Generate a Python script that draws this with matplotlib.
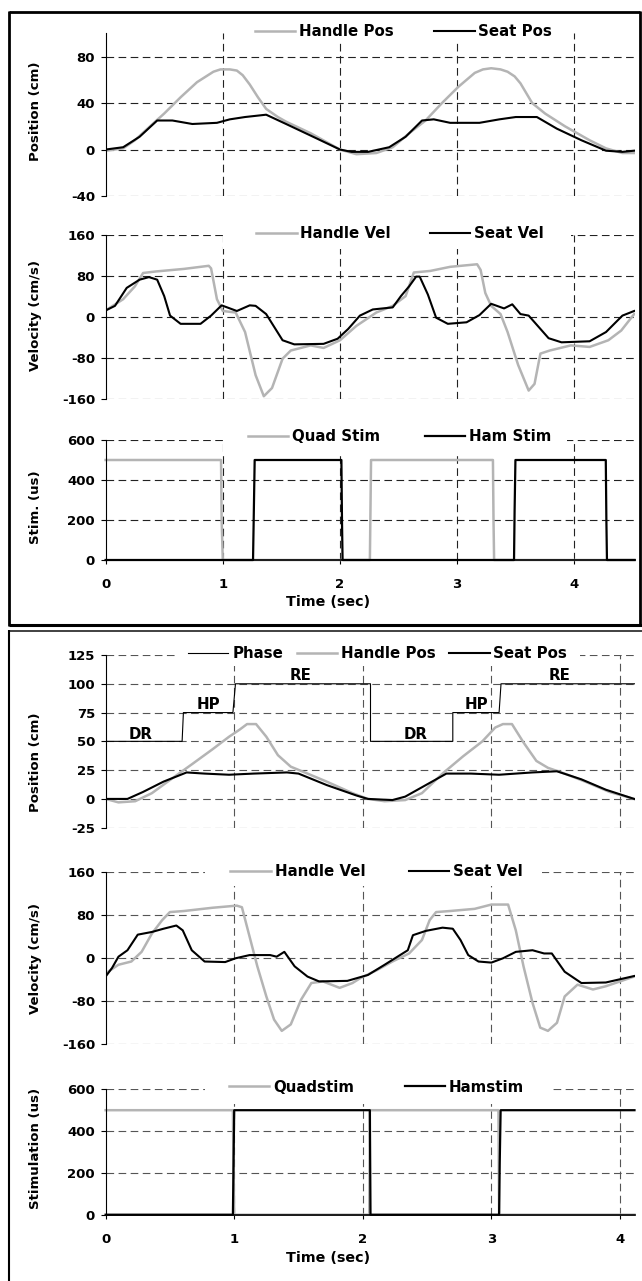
import matplotlib
matplotlib.use("Agg")
import matplotlib.pyplot as plt
from matplotlib.lines import Line2D
from matplotlib.patches import Rectangle

plt.rcParams['font.family'] = ['DejaVu Sans']
plt.rcParams['font.weight'] = 'bold'
plt.rcParams['lines.scale_dashes'] = False
plt.rcParams['axes.unicode_minus'] = False

W, H = 642, 1281
GRAY = '#b4b4b4'

# ---- top chart data (time in sec) ----
t_hpos1 = [0, 0.15, 0.25, 0.39, 0.5, 0.64, 0.78, 0.92, 0.98, 1.06, 1.12, 1.17, 1.23, 1.30, 1.37, 1.47, 1.54, 1.75, 2.0,
           2.14, 2.31, 2.45, 2.59, 2.73, 2.87, 3.01, 3.15, 3.22, 3.29, 3.37, 3.43, 3.49, 3.54, 3.64, 3.75, 3.92, 4.13,
           4.27, 4.41, 4.51]
v_hpos1 = [-1, 1, 8, 21, 31, 45, 58, 67, 69, 69, 68, 64, 56, 45, 35, 28, 24, 14, 0,
           -4, -3, 2, 14, 25, 40, 54, 66, 69, 70, 69, 67, 63, 57, 40, 31, 20, 8,
           1, -3, -3]
t_spos1 = [0, 0.15, 0.29, 0.44, 0.57, 0.74, 0.95, 1.06, 1.19, 1.37, 1.54, 1.75, 2.0, 2.1, 2.24, 2.42, 2.56, 2.70,
           2.80, 2.94, 3.19, 3.36, 3.5, 3.68, 3.85, 4.06, 4.27, 4.41, 4.51]
v_spos1 = [0, 2, 11, 25, 25, 22, 23, 26, 28, 30, 22, 12, 0, -2, -2, 2, 11, 25,
           26, 23, 23, 26, 28, 28, 18, 8, -1, -2, -1]

t_hvel1 = [0, 0.15, 0.25, 0.32, 0.43, 0.67, 0.88, 0.90, 0.95, 1.0, 1.11, 1.19, 1.28, 1.35, 1.42, 1.51, 1.58, 1.75,
           1.86, 2.0, 2.14, 2.31, 2.45, 2.56, 2.63, 2.77, 2.94, 3.17, 3.20, 3.24, 3.29, 3.37, 3.43, 3.52, 3.61, 3.66,
           3.71, 3.79, 3.97, 4.13, 4.29, 4.40, 4.51]
v_hvel1 = [13, 35, 60, 86, 89, 94, 100, 95, 35, 12, 9, -29, -113, -154, -138, -81, -65, -55,
           -60, -45, -17, 9, 22, 41, 87, 90, 98, 103, 92, 47, 22, 6, -29, -93, -143, -130,
           -71, -65, -55, -58, -45, -26, 6]
t_svel1 = [0, 0.08, 0.18, 0.29, 0.37, 0.44, 0.5, 0.55, 0.64, 0.81, 0.9, 0.99, 1.12, 1.23, 1.28, 1.37, 1.51, 1.61,
           1.86, 1.98, 2.07, 2.17, 2.28, 2.45, 2.52, 2.59, 2.65, 2.68, 2.75, 2.82, 2.92, 3.08, 3.19, 3.29, 3.40,
           3.47, 3.54, 3.61, 3.78, 3.89, 4.13, 4.27, 4.41, 4.51]
v_svel1 = [13, 22, 57, 73, 78, 73, 41, 3, -13, -13, 3, 23, 12, 23, 22, 6, -45, -53,
           -52, -42, -23, 3, 15, 19, 41, 60, 79, 79, 44, -1, -13, -10, 4, 26, 17,
           25, 6, 3, -41, -49, -47, -29, 3, 12]

t_quad1 = [0, 0.985, 0.99, 1.0, 2.255, 2.26, 2.265, 3.305, 3.31, 3.315, 4.513]
v_quad1 = [500, 500, 200, 0, 0, 250, 500, 500, 200, 0, 0]
t_ham1 = [0, 1.258, 1.265, 1.272, 2.012, 2.017, 2.022, 3.485, 3.49, 3.497, 4.268, 4.273, 4.278, 4.513]
v_ham1 = [0, 0, 250, 500, 500, 200, 0, 0, 250, 500, 500, 200, 0, 0]

# ---- bottom chart data ----
t_phase = [0, 0.595, 0.605, 0.99, 1.01, 2.06, 2.06, 2.70, 2.70, 3.06, 3.075, 4.113]
v_phase = [50, 50, 75, 75, 100, 100, 50, 50, 75, 75, 100, 100]
phase_lab = ['DR', 'HP', 'RE', 'DR', 'HP', 'RE']
phase_lab_t = [0.275, 0.80, 1.52, 2.41, 2.88, 3.53]
phase_lab_v = [56, 82, 107, 56, 82, 107]

t_hpos2 = [0, 0.10, 0.23, 0.36, 0.52, 0.67, 0.83, 0.96, 1.04, 1.10, 1.17, 1.25, 1.34, 1.44, 1.57, 1.72, 1.92, 2.04,
           2.17, 2.33, 2.46, 2.62, 2.78, 2.93, 3.03, 3.09, 3.16, 3.25, 3.35, 3.44, 3.57, 3.73, 3.92, 4.11]
v_hpos2 = [0, -3, -2, 5, 18, 30, 43, 54, 60, 65, 65, 54, 38, 28, 22, 15, 5, 0,
           -2, -1, 5, 22, 37, 50, 62, 65, 65, 49, 33, 27, 22, 15, 6, 0]
t_spos2 = [0, 0.17, 0.29, 0.45, 0.63, 0.77, 0.96, 1.15, 1.41, 1.50, 1.72, 1.95, 2.04, 2.23, 2.33, 2.49, 2.65, 2.84,
           3.06, 3.32, 3.51, 3.70, 3.89, 4.11]
v_spos2 = [0, 0, 6, 15, 23, 22, 21, 22, 23, 22, 12, 3, 0, -1, 2, 12, 22, 22,
           21, 23, 24, 17, 8, 0]

t_hvel2 = [0, 0.10, 0.20, 0.28, 0.36, 0.44, 0.50, 0.61, 0.83, 1.02, 1.06, 1.12, 1.18, 1.25, 1.31, 1.37, 1.44, 1.52,
           1.60, 1.69, 1.82, 1.92, 1.98, 2.11, 2.23, 2.36, 2.46, 2.52, 2.57, 2.68, 2.87, 3.0, 3.13, 3.19, 3.25,
           3.32, 3.38, 3.44, 3.51, 3.57, 3.67, 3.79, 3.89, 4.11]
v_hvel2 = [-28, -12, -6, 12, 46, 71, 86, 88, 94, 98, 95, 40, -15, -71, -114, -135, -123, -77,
           -46, -43, -55, -46, -37, -22, -6, 9, 34, 71, 86, 88, 92, 100, 100, 52, -15,
           -83, -129, -135, -120, -71, -49, -58, -52, -34]
t_svel2 = [0, 0.05, 0.10, 0.17, 0.25, 0.36, 0.45, 0.55, 0.60, 0.67, 0.77, 0.93, 1.01, 1.12, 1.28, 1.33, 1.39, 1.47,
           1.57, 1.66, 1.88, 2.04, 2.17, 2.27, 2.35, 2.39, 2.49, 2.62, 2.70, 2.76, 2.82, 2.90, 3.0, 3.09, 3.19,
           3.32, 3.41, 3.47, 3.57, 3.70, 3.89, 4.11]
v_svel2 = [-34, -18, 3, 15, 44, 49, 55, 61, 52, 15, -6, -7, 0, 6, 6, 3, 12, -15,
           -34, -43, -42, -31, -12, 3, 15, 43, 51, 57, 55, 34, 6, -6, -8, 0, 12,
           15, 9, 9, -25, -46, -45, -33]

t_quad2 = [0, 0.99, 0.995, 1.0, 2.05, 2.055, 3.055, 3.06, 4.113]
v_quad2 = [500, 500, 200, 0, 0, 500, 500, 0, 0]
t_ham2 = [0, 0.99, 0.995, 1.0, 2.055, 2.06, 3.06, 3.065, 3.072, 4.113]
v_ham2 = [0, 0, 250, 500, 500, 0, 0, 250, 500, 500]

yt_pos1 = [-40, 0, 40, 80]
yt_vel = [-160, -80, 0, 80, 160]
yt_stim = [0, 200, 400, 600]
yt_pos2 = [-25, 0, 25, 50, 75, 100, 125]
xt = [0, 1, 2, 3, 4]

fig = plt.figure(figsize=(W / 100, H / 100), dpi=100)

DASH = (0, (5.5, 3.2))


def px_axes(left, top, right, bottom):
    return fig.add_axes([left / W, 1 - bottom / H, (right - left) / W, (bottom - top) / H])


def style(ax, xmax, ylim, yticks, stim=False, gcol='#222222'):
    ax.set_xlim(0, xmax)
    ax.set_ylim(*ylim)
    ax.set_yticks(yticks)
    ax.set_xticks(xt)
    for s in ['top', 'right']:
        ax.spines[s].set_visible(False)
    ax.spines['left'].set_linewidth(0.8)
    ax.tick_params(axis='y', direction='out', length=3.6, width=0.8, pad=4, labelsize=9.5)
    if stim:
        ax.spines['bottom'].set_linewidth(1.2)
        ax.tick_params(axis='x', direction='out', length=3, width=0.8, pad=10, labelsize=9.5)
    else:
        ax.spines['bottom'].set_visible(False)
        ax.tick_params(axis='x', bottom=False, labelbottom=False)
    for y in yticks:
        if stim and y == 0:
            continue
        ax.axhline(y, color=gcol, lw=0.8, ls=DASH, zorder=0.5)
    for x in xt[1:]:
        ax.axvline(x, color=gcol, lw=0.8, ls=DASH, zorder=0.5)


def white_box(x0, y0, x1, y1):
    fig.add_artist(Rectangle((x0 / W, 1 - y1 / H), (x1 - x0) / W, (y1 - y0) / H,
                             transform=fig.transFigure, facecolor='white', edgecolor='none', zorder=2))


def legend(handles, labels, cx, cy, ncol, colsp):
    fig.legend(handles, labels, loc='center', bbox_to_anchor=(cx / W, 1 - cy / H), ncol=ncol,
               frameon=False, handlelength=2.7, handletextpad=0.25, columnspacing=colsp,
               borderpad=0, prop={'size': 10.8, 'weight': 'bold'})


def frame_line(x0, y0, x1, y1, lw, col='black'):
    fig.add_artist(Line2D([x0 / W, x1 / W], [1 - y0 / H, 1 - y1 / H], transform=fig.transFigure,
                          color=col, lw=lw, solid_capstyle='butt'))


XL, XR = 105.6, 634.5
XMAX1, XMAX2 = 4.513, 4.113

# ---------------- top chart ----------------
ax1 = px_axes(XL, 33.4, XR, 196)
style(ax1, XMAX1, (-40, 100), yt_pos1)
l1, = ax1.plot(t_hpos1, v_hpos1, color=GRAY, lw=1.8)
l2, = ax1.plot(t_spos1, v_spos1, color='black', lw=1.5)

ax2 = px_axes(XL, 235, XR, 399.3)
style(ax2, XMAX1, (-160, 160), yt_vel)
l3, = ax2.plot(t_hvel1, v_hvel1, color=GRAY, lw=1.8)
l4, = ax2.plot(t_svel1, v_svel1, color='black', lw=1.5)

ax3 = px_axes(XL, 440, XR, 560)
style(ax3, XMAX1, (0, 600), yt_stim, stim=True)
l5, = ax3.plot(t_quad1, v_quad1, color=GRAY, lw=1.8, clip_on=False)
l6, = ax3.plot(t_ham1, v_ham1, color='black', lw=1.6, clip_on=False)

white_box(225, 18, 569, 40)
white_box(223, 218, 571, 249)
white_box(223, 425, 567, 452)
legend([l1, l2], ['Handle Pos', 'Seat Pos'], 403.5, 31.5, 2, 2.7)
legend([l3, l4], ['Handle Vel', 'Seat Vel'], 400, 234, 2, 2.6)
legend([l5, l6], ['Quad Stim', 'Ham Stim'], 399.5, 437, 2, 3.0)

fig.text(35 / W, 1 - 111.5 / H, 'Position (cm)', rotation=90, ha='center', va='center', fontsize=9.5)
fig.text(35 / W, 1 - 315 / H, 'Velocity (cm/s)', rotation=90, ha='center', va='center', fontsize=9.5)
fig.text(35 / W, 1 - 507 / H, 'Stim. (us)', rotation=90, ha='center', va='center', fontsize=9.5)
fig.text(328 / W, 1 - 602 / H, 'Time (sec)', ha='center', va='center', fontsize=10.3)

# ---------------- bottom chart ----------------
ax4 = px_axes(XL, 655, XR, 827.7)
style(ax4, XMAX2, (-25, 125), yt_pos2, gcol='#555555')
p0, = ax4.plot(t_phase, v_phase, color='black', lw=0.8)
p1, = ax4.plot(t_hpos2, v_hpos2, color=GRAY, lw=1.8)
p2, = ax4.plot(t_spos2, v_spos2, color='black', lw=1.5)
for lab, tx, vy in zip(phase_lab, phase_lab_t, phase_lab_v):
    ax4.text(tx, vy, lab, ha='center', va='center', fontsize=10.8, zorder=6)

ax5 = px_axes(XL, 872.3, XR, 1044.3)
style(ax5, XMAX2, (-160, 160), yt_vel, gcol='#555555')
p3, = ax5.plot(t_hvel2, v_hvel2, color=GRAY, lw=1.8)
p4, = ax5.plot(t_svel2, v_svel2, color='black', lw=1.5)

ax6 = px_axes(XL, 1089.3, XR, 1214.7)
style(ax6, XMAX2, (0, 600), yt_stim, stim=True, gcol='#555555')
p5, = ax6.plot(t_quad2, v_quad2, color=GRAY, lw=1.8, clip_on=False)
p6, = ax6.plot(t_ham2, v_ham2, color='black', lw=1.6, clip_on=False)

white_box(176, 640, 580, 666)
white_box(205, 858, 542, 886)
white_box(205, 1075, 550, 1104)
legend([p0, p1, p2], ['Phase', 'Handle Pos', 'Seat Pos'], 377.5, 654, 3, 0.9)
legend([p3, p4], ['Handle Vel', 'Seat Vel'], 376.5, 872, 2, 2.9)
legend([p5, p6], ['Quadstim', 'Hamstim'], 376.5, 1087, 2, 3.4)

fig.text(35 / W, 1 - 762 / H, 'Position (cm)', rotation=90, ha='center', va='center', fontsize=9.5)
fig.text(35 / W, 1 - 958 / H, 'Velocity (cm/s)', rotation=90, ha='center', va='center', fontsize=9.5)
fig.text(35 / W, 1 - 1148 / H, 'Stimulation (us)', rotation=90, ha='center', va='center', fontsize=9.5)
fig.text(328 / W, 1 - 1258 / H, 'Time (sec)', ha='center', va='center', fontsize=10.3)

# chart borders
frame_line(9, 12, 640, 12, 2)
frame_line(9, 11, 9, 626, 2)
frame_line(640, 11, 640, 626, 2)
frame_line(9, 625, 642, 625, 2.2)
frame_line(9, 631, 642, 631, 1.3, '#333333')
frame_line(9, 630, 9, 1281, 1.5)

fig.savefig('out.png', dpi=100)
